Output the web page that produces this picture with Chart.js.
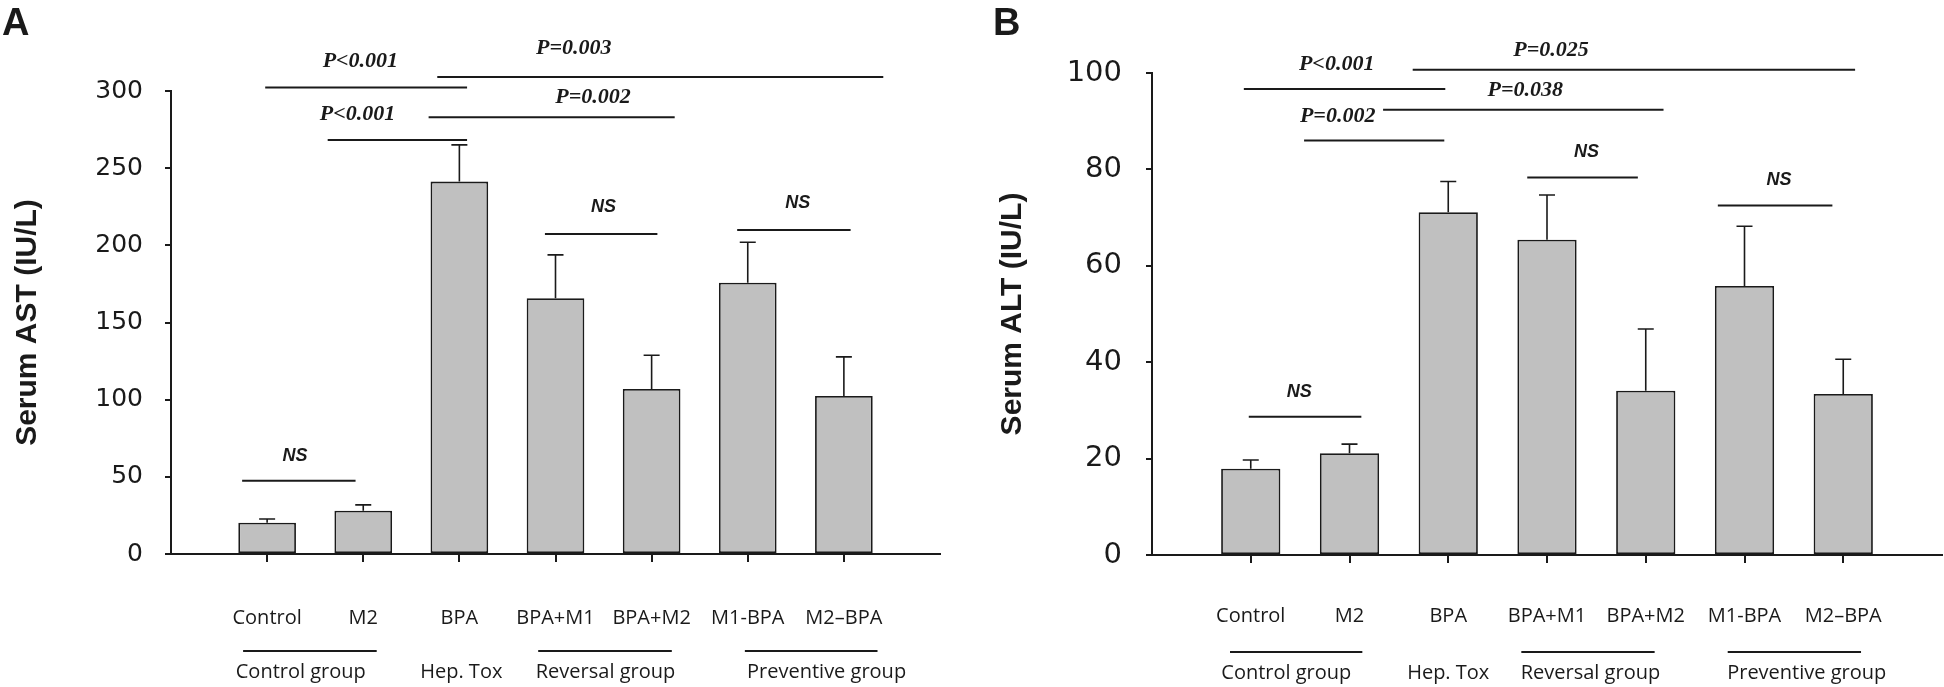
<!DOCTYPE html>
<html>
<head>
<meta charset="utf-8">
<script src="https://cdn.jsdelivr.net/npm/chart.js@4.4.1/dist/chart.umd.min.js"></script>
<style>
  html, body { margin: 0; padding: 0; background: #fff; }
  #wrap { position: relative; width: 1944px; height: 687px; }
  canvas { position: absolute; top: 0; }
  #cA { left: 0; }
  #cB { left: 972px; }
</style>
</head>
<body>
<div id="wrap">
  <canvas id="cA" width="972" height="687"></canvas>
  <canvas id="cB" width="972" height="687"></canvas>
</div>
<script>
const categories = ['Control', 'M2', 'BPA', 'BPA+M1', 'BPA+M2', 'M1-BPA', 'M2\u2013BPA'];
const groupNames = ['Control group', 'Hep. Tox', 'Reversal group', 'Preventive group'];

// panel A : serum AST
const astMean = [20.3, 28.1, 241.3, 165.7, 106.9, 175.8, 102.4];
const astErr = [2.4, 3.7, 23.8, 28.1, 21.9, 26.2, 25.3];
const astTicks = [0, 50, 100, 150, 200, 250, 300];

// panel B : serum ALT
const altMean = [17.9, 21.1, 71.1, 65.4, 34.1, 55.8, 33.4];
const altErr = [1.8, 1.9, 6.4, 9.3, 12.8, 12.4, 7.2];
const altTicks = [0, 20, 40, 60, 80, 100];

// comparison bars: [text, from category, to category, level]
const astSig = [
  ['P<0.001', -0.02, 2.08, 302.3],
  ['P=0.003', 1.77, 6.41, 309.1],
  ['P=0.002', 1.68, 4.24, 283.0],
  ['P<0.001', 0.63, 2.08, 268.3],
  ['NS', 2.89, 4.06, 207.4],
  ['NS', 4.89, 6.07, 210.0],
  ['NS', -0.26, 0.92, 47.5]
];
const astSigText = [[0.97, 319], [3.19, 327.7], [3.39, 296], [0.94, 285], [3.5, 225.1], [5.52, 227.3], [0.29, 63.5]];

const altSig = [
  ['P<0.001', -0.07, 1.97, 96.7],
  ['P=0.025', 1.64, 6.12, 100.7],
  ['P=0.038', 1.34, 4.18, 92.4],
  ['P=0.002', 0.54, 1.96, 86.0],
  ['NS', 2.80, 3.92, 78.3],
  ['NS', 4.73, 5.89, 72.5],
  ['NS', -0.02, 1.12, 28.7]
];
const altSigText = [[0.87, 101.7], [3.04, 104.7], [2.78, 96.5], [0.88, 91.1], [3.40, 83.7], [5.35, 77.8], [0.49, 33.9]];

// group underlines (category span) and label centres
const astGroupSpan = [[-0.25, 1.14], null, [2.82, 4.21], [4.97, 6.35]];
const astGroupAt = [0.35, 2.02, 3.52, 5.82];
const altGroupSpan = [[-0.21, 1.13], null, [2.74, 4.09], [4.83, 6.18]];
const altGroupAt = [0.36, 2.0, 3.44, 5.63];

const ink = '#1a1a1a';

const overlay = {
  id: 'overlay',
  afterDraw(chart, args, o) {
    const {ctx, chartArea} = chart;
    const x = chart.scales.x, y = chart.scales.y;
    const meta = chart.getDatasetMeta(0);
    ctx.save();
    ctx.strokeStyle = ink;
    ctx.fillStyle = ink;

    // error bars (upper only)
    ctx.lineWidth = 1.6;
    meta.data.forEach((bar, i) => {
      const top = y.getPixelForValue(o.mean[i] + o.err[i]);
      ctx.beginPath();
      ctx.moveTo(bar.x, bar.y);
      ctx.lineTo(bar.x, top);
      ctx.moveTo(bar.x - 8, top);
      ctx.lineTo(bar.x + 8, top);
      ctx.stroke();
    });

    // comparison lines + p values
    ctx.lineWidth = 2;
    ctx.textAlign = 'center';
    ctx.textBaseline = 'middle';
    o.sig.forEach((s, i) => {
      const py = y.getPixelForValue(s[3]);
      ctx.beginPath();
      ctx.moveTo(x.getPixelForValue(s[1]), py);
      ctx.lineTo(x.getPixelForValue(s[2]), py);
      ctx.stroke();
      ctx.font = s[0] === 'NS'
        ? 'bold italic 18px "Liberation Sans"'
        : 'bold italic 22px "Liberation Serif"';
      ctx.fillText(s[0], x.getPixelForValue(o.sigText[i][0]), y.getPixelForValue(o.sigText[i][1]));
    });

    // group lines and names under the category labels
    const lineY = chartArea.bottom + 97;
    ctx.font = '20px "Open Sans"';
    groupNames.forEach((g, i) => {
      const span = o.groupSpan[i];
      if (span) {
        ctx.beginPath();
        ctx.moveTo(x.getPixelForValue(span[0]), lineY);
        ctx.lineTo(x.getPixelForValue(span[1]), lineY);
        ctx.stroke();
      }
      ctx.fillText(g, x.getPixelForValue(o.groupAt[i]), lineY + 21);
    });

    // panel letter
    ctx.textAlign = 'left';
    ctx.textBaseline = 'alphabetic';
    ctx.font = 'bold 38px "Liberation Sans"';
    ctx.fillText(o.letter, o.letterX, 35);
    ctx.restore();
  }
};

function makePanel(id, cfg) {
  return new Chart(document.getElementById(id), {
    type: 'bar',
    data: {
      datasets: [{
        data: cfg.mean.map((v, i) => ({x: i, y: v})),
        backgroundColor: '#c0c0c0',
        borderColor: ink,
        borderWidth: 1.8,
        borderSkipped: false,
        barPercentage: 0.6,
        categoryPercentage: 1
      }]
    },
    options: {
      responsive: false,
      animation: false,
      layout: { padding: { top: cfg.padTop, right: cfg.padRight, left: 0, bottom: 0 } },
      plugins: {
        legend: { display: false },
        tooltip: { enabled: false },
        overlay: {
          mean: cfg.mean, err: cfg.err, sig: cfg.sig, sigText: cfg.sigText,
          groupSpan: cfg.groupSpan, groupAt: cfg.groupAt,
          letter: cfg.letter, letterX: cfg.letterX
        }
      },
      scales: {
        x: {
          type: 'linear',
          min: -1,
          max: 7,
          offset: false,
          afterBuildTicks: s => { s.ticks = categories.map((c, i) => ({value: i})); },
          afterFit: s => { s.height = cfg.xHeight; },
          ticks: {
            autoSkip: false,
            maxRotation: 0,
            padding: cfg.labelPad,
            color: ink,
            font: { family: '"Open Sans"', size: 20 },
            callback: v => categories[v]
          },
          grid: { drawOnChartArea: false, offset: false, tickLength: 8, lineWidth: 2, color: ink },
          border: { display: true, color: ink, width: 2 }
        },
        y: {
          min: 0,
          max: cfg.ticks[cfg.ticks.length - 1],
          afterBuildTicks: s => { s.ticks = cfg.ticks.map(v => ({value: v})); },
          afterFit: s => { s.width = cfg.yWidth; },
          ticks: {
            padding: cfg.tickPad,
            color: ink,
            font: { family: '"DejaVu Sans"', size: cfg.tickSize }
          },
          grid: { drawOnChartArea: false, tickLength: 6, lineWidth: 2, color: ink },
          border: { display: true, color: ink, width: 2 },
          title: {
            display: true,
            text: cfg.title,
            color: ink,
            padding: { top: cfg.titlePad, bottom: 0 },
            font: { family: '"Liberation Sans Narrow", "Liberation Sans"', weight: 'bold', size: 30 }
          }
        }
      }
    },
    plugins: [overlay]
  });
}

makePanel('cA', {
  mean: astMean, err: astErr, ticks: astTicks, sig: astSig, sigText: astSigText,
  groupSpan: astGroupSpan, groupAt: astGroupAt, title: 'Serum AST (IU/L)',
  letter: 'A', letterX: 2,
  padTop: 91, padRight: 32, yWidth: 171, xHeight: 133, labelPad: 44,
  tickPad: 22, tickSize: 25, titlePad: 10
});

makePanel('cB', {
  mean: altMean, err: altErr, ticks: altTicks, sig: altSig, sigText: altSigText,
  groupSpan: altGroupSpan, groupAt: altGroupAt, title: 'Serum ALT (IU/L)',
  letter: 'B', letterX: 21,
  padTop: 73, padRight: 2, yWidth: 180, xHeight: 132, labelPad: 41,
  tickPad: 24, tickSize: 29, titlePad: 23
});
</script>
</body>
</html>
